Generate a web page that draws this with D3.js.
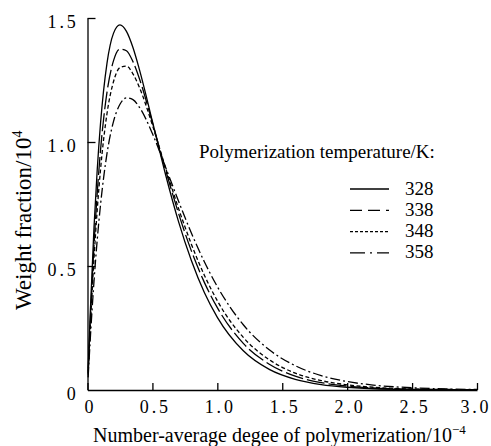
<!DOCTYPE html>
<html>
<head>
<meta charset="utf-8">
<script src="https://cdn.jsdelivr.net/npm/d3@7"></script>
<style>
  html, body { margin: 0; padding: 0; background: #fff; }
  svg { display: block; }
  text { font-family: "Liberation Serif", "DejaVu Serif", "Times New Roman", serif; fill: #000; }
</style>
</head>
<body>
<svg id="chart" width="491" height="446"></svg>
<script>
// 数均聚合度 (x10^4) 采样点, 各温度下的质量分数 (x10^-4), 读自原图
const dp   = [0.005, 0.02, 0.05, 0.075, 0.1, 0.15, 0.2, 0.25, 0.3, 0.35, 0.4, 0.5, 0.6, 0.7, 0.8, 0.9, 1.0, 1.2, 1.4, 1.6, 1.8, 2.0, 2.2, 2.5, 2.8, 3.0];
const w328 = [0.078, 0.295, 0.655, 0.889, 1.073, 1.317, 1.438, 1.472, 1.446, 1.381, 1.292, 1.083, 0.871, 0.681, 0.522, 0.393, 0.293, 0.158, 0.083, 0.043, 0.022, 0.011, 0.005, 0.002, 0.001, 0.000];
const w338 = [0.069, 0.260, 0.582, 0.795, 0.965, 1.200, 1.327, 1.375, 1.368, 1.324, 1.255, 1.078, 0.890, 0.714, 0.561, 0.434, 0.332, 0.188, 0.104, 0.056, 0.030, 0.016, 0.008, 0.003, 0.001, 0.001];
const w348 = [0.062, 0.236, 0.530, 0.727, 0.887, 1.114, 1.243, 1.300, 1.306, 1.275, 1.220, 1.068, 0.898, 0.734, 0.588, 0.463, 0.360, 0.212, 0.122, 0.068, 0.038, 0.021, 0.011, 0.004, 0.002, 0.001];
const w358 = [0.051, 0.193, 0.438, 0.606, 0.745, 0.953, 1.082, 1.152, 1.178, 1.171, 1.140, 1.034, 0.900, 0.763, 0.633, 0.517, 0.417, 0.263, 0.162, 0.098, 0.058, 0.034, 0.020, 0.009, 0.004, 0.002];
const temps = ["328", "338", "348", "358"];
const xTicks = [0, 0.5, 1.0, 1.5, 2.0, 2.5, 3.0];
const yTicks = [0, 0.5, 1.0, 1.5];

const series = [w328, w338, w348, w358];
const curveDash  = [null, "18,4", "4,2.5", "10,3,2,3"];
const legendDash = [null, "12,6", "3,2", "15,5,2,5"];
const LS = 2.8; // 刻度数字字距
const SERIF = '"Liberation Serif", "DejaVu Serif", "Times New Roman", serif';

const svg = d3.select("#chart");
const x = d3.scaleLinear().domain([0, 3]).range([87.5, 477]);
const y = d3.scaleLinear().domain([0, 1.5]).range([390, 18]);

// ---------- 坐标轴 (刻度朝内) ----------
const gx = svg.append("g").attr("transform", `translate(0,${y(0)})`)
  .call(d3.axisBottom(x).tickValues(xTicks).tickSize(-7).tickSizeOuter(0).tickPadding(10)
    .tickFormat((d) => d.toFixed(d === 0 ? 0 : 1)));
const gy = svg.append("g").attr("transform", `translate(${x(0)},0)`)
  .call(d3.axisLeft(y).tickValues(yTicks).tickSize(-8).tickSizeOuter(0).tickPadding(9)
    .tickFormat((d) => d.toFixed(d === 0 ? 0 : 1)));
[gx, gy].forEach((g) => {
  g.attr("font-family", SERIF).attr("font-size", null);
  g.select(".domain").attr("stroke", "#000").attr("stroke-width", 1.3);
  g.selectAll(".tick line").attr("stroke", "#000").attr("stroke-width", 1.3);
  g.selectAll(".tick text")
    .style("font-family", SERIF)
    .style("font-size", "18px").style("letter-spacing", LS + "px").attr("fill", "#000");
});
// 3.0 贴近右边缘, 略向左收
gx.selectAll(".tick text").attr("dx", (d) => (d === 3 ? LS / 2 - 3 : LS / 2 + 1));
gy.selectAll(".tick text").attr("dy", "0.55em");
gy.selectAll(".tick").filter((d) => d === 0).select("line").remove();

// ---------- 曲线 ----------
const line = d3.line().x((d) => x(d[0])).y((d) => y(d[1])).curve(d3.curveMonotoneX);
series.forEach((s, i) => {
  svg.append("path").datum(dp.map((v, j) => [v, s[j]]))
    .attr("fill", "none").attr("stroke", "#000").attr("stroke-width", 1.3)
    .attr("stroke-dasharray", curveDash[i]).attr("d", line);
});

// ---------- 图例 ----------
svg.append("text").attr("x", 199).attr("y", 158).style("font-size", "19px")
  .text("Polymerization temperature/K:");
temps.forEach((t, i) => {
  const ry = 188 + i * 21.3;
  svg.append("line").attr("x1", 350).attr("x2", 389).attr("y1", ry + 1).attr("y2", ry + 1)
    .attr("stroke", "#000").attr("stroke-width", 1.3).attr("stroke-dasharray", legendDash[i]);
  svg.append("text").attr("x", 405).attr("y", ry + 6.5).style("font-size", "19px").text(t);
});

// ---------- 轴标题 ----------
const xt = svg.append("text").attr("x", 93).attr("y", 441.5).style("font-size", "20px");
xt.append("tspan").text("Number-average degee of polymerization/10");
xt.append("tspan").style("font-size", "13px").attr("dy", -8).text("\u2212" + "4");

const yt = svg.append("text").attr("transform", "translate(31,310) rotate(-90)").style("font-size", "23px");
yt.append("tspan").text("Weight fraction/10");
yt.append("tspan").style("font-size", "14px").attr("dy", -9).text("4");
</script>
</body>
</html>
